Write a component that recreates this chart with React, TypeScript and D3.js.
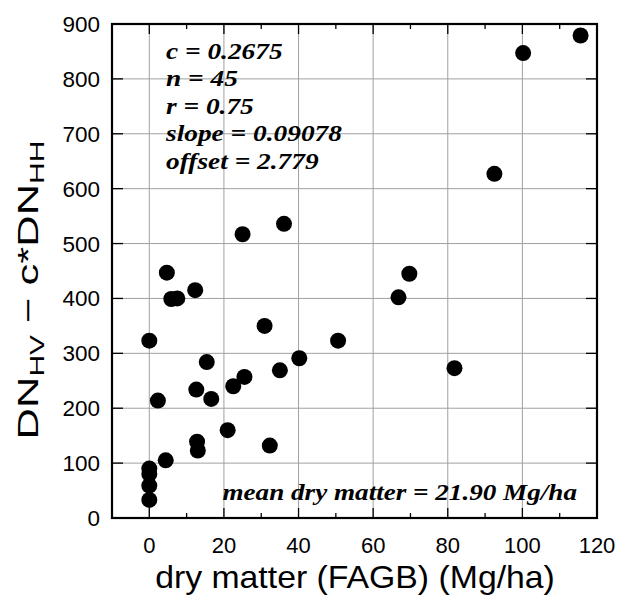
import React from "react";
import * as d3 from "d3";

const dryMatter = [115.6, 100.2, 92.5, 36.1, 25.0, 4.7, 69.7, 12.3, 5.9, 7.5, 66.8, 30.9, 0, 50.6, 15.4, 40.2, 81.8, 35.0, 25.5, 22.5, 12.6, 2.3, 16.6, 21.0, 12.8, 13.0, 32.3, 4.4, 0, 0, 0, 0];
const dnDiff = [879, 847, 627, 536, 517, 447, 445, 415, 399, 400, 402, 350, 323, 323, 284, 291, 273, 269, 257, 240, 234, 214, 217, 160, 139, 123, 132, 105, 90, 80, 59, 33];
const xTicks = [0, 20, 40, 60, 80, 100, 120];
const xMinorTicks = [10, 30, 50, 70, 90, 110];
const yTicks = [0, 100, 200, 300, 400, 500, 600, 700, 800, 900];
const statLines = ["c = 0.2675", "n = 45", "r = 0.75", "slope = 0.09078", "offset = 2.779"];
const meanText = "mean dry matter = 21.90 Mg/ha";
const xTitle = "dry matter (FAGB) (Mg/ha)";

export default function App() {
  const W = 633, H = 598;
  const L = 112, R = 597, T = 24, B = 518;
  const x = d3.scaleLinear().domain([-10, 120]).range([L, R]);
  const y = d3.scaleLinear().domain([0, 900]).range([B, T]);
  const sans = "'Liberation Sans', Arial, Helvetica, sans-serif";
  const serif = "'Liberation Serif', 'Times New Roman', serif";
  return (
    <svg width={W} height={H} style={{ position: "absolute", left: 0, top: 0, background: "#fff" }}>
      <rect x={0} y={0} width={W} height={H} fill="#fff" />
      {xTicks.filter(t => t > -10 && t < 120).map(t => (
        <line key={"gx" + t} x1={x(t)} x2={x(t)} y1={T} y2={B} stroke="#a0a0a0" strokeWidth={1} />
      ))}
      {yTicks.filter(t => t > 0 && t < 900).map(t => (
        <line key={"gy" + t} x1={L} x2={R} y1={y(t)} y2={y(t)} stroke="#a0a0a0" strokeWidth={1} />
      ))}
      {xTicks.map(t => (
        <g key={"xt" + t}>
          <line x1={x(t)} x2={x(t)} y1={B} y2={B - 10} stroke="#000" strokeWidth={1.3} />
          <line x1={x(t)} x2={x(t)} y1={T} y2={T + 10} stroke="#000" strokeWidth={1.3} />
        </g>
      ))}
      {xMinorTicks.map(t => (
        <g key={"xm" + t}>
          <line x1={x(t)} x2={x(t)} y1={B} y2={B - 5} stroke="#000" strokeWidth={1.3} />
          <line x1={x(t)} x2={x(t)} y1={T} y2={T + 5} stroke="#000" strokeWidth={1.3} />
        </g>
      ))}
      {yTicks.map(t => (
        <g key={"yt" + t}>
          <line x1={L} x2={L + 11} y1={y(t)} y2={y(t)} stroke="#000" strokeWidth={1.3} />
          <line x1={R} x2={R - 11} y1={y(t)} y2={y(t)} stroke="#000" strokeWidth={1.3} />
        </g>
      ))}
      {dryMatter.map((d, i) => (
        <circle key={"p" + i} cx={x(d)} cy={y(dnDiff[i])} r={8} fill="#000" />
      ))}
      <rect x={L} y={T} width={R - L} height={B - T} fill="none" stroke="#000" strokeWidth={2.2} />
      {xTicks.map(t => (
        <text key={"xl" + t} x={x(t)} y={553} textAnchor="middle" fontFamily={sans} fontSize={22} fill="#000">{t}</text>
      ))}
      {yTicks.map(t => (
        <text key={"yl" + t} x={100} y={y(t) + 8} textAnchor="end" fontFamily={sans} fontSize={22.5} fill="#000">{t}</text>
      ))}
      <g transform="translate(166,0) scale(1.19,1)">
        {statLines.map((s, i) => (
          <text key={"s" + i} x={0} y={59 + i * 27.5} fontFamily={serif} fontStyle="italic" fontWeight="bold" fontSize={23} fill="#000">{s}</text>
        ))}
      </g>
      <g transform="translate(577,500) scale(1.18,1)">
        <text x={0} y={0} textAnchor="end" fontFamily={serif} fontStyle="italic" fontWeight="bold" fontSize={23} fill="#000">{meanText}</text>
      </g>
      <g transform="translate(355,588) scale(1.09,1)">
        <text x={0} y={0} textAnchor="middle" fontFamily={sans} fontSize={31} fill="#000">{xTitle}</text>
      </g>
      <g transform="translate(38,290) rotate(-90) scale(1.5,1)">
        <text x={0} y={0} textAnchor="middle" fontFamily={sans} fontSize={29} fill="#000">
          <tspan>DN</tspan>
          <tspan fontSize={20} dy={6}>HV</tspan>
          <tspan dy={-6}> − c</tspan>
          <tspan>*</tspan>
          <tspan>DN</tspan>
          <tspan fontSize={20} dy={6}>HH</tspan>
        </text>
      </g>
    </svg>
  );
}
